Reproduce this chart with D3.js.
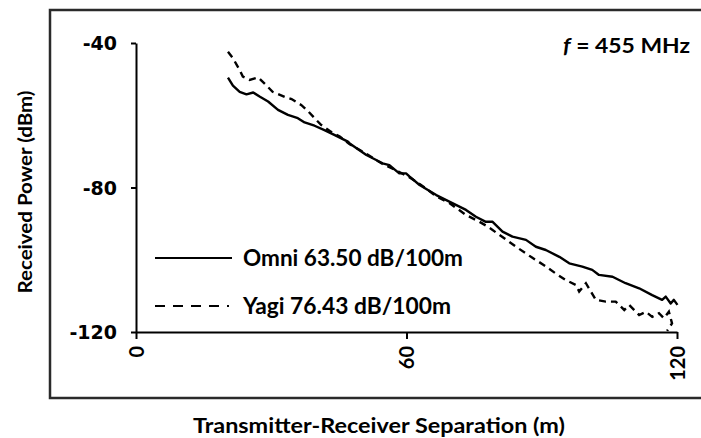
<!DOCTYPE html>
<html><head><meta charset="utf-8">
<script src="https://cdn.jsdelivr.net/npm/d3@7"></script>
<style>
html,body{margin:0;padding:0;background:#fff;}
svg{display:block;}
</style></head>
<body>
<svg id="chart" width="701" height="438"></svg>
<script>
// ---- data ----
const xTicks = [0, 60, 120];
const yTicks = [-40, -80, -120];
const omniDist = [20.4,21.5,23.0,24.5,26.0,27.5,29.3,31.5,33.7,35.9,37.4,39.6,41.8,44.1,47.0,47.4,51.1,54.7,56.2,58.4,59.9,60.7,62.9,66.6,69.5,73.2,75.4,77.6,79.1,81.3,83.5,86.5,88.7,90.9,93.9,96.1,99.0,101.2,102.7,105.7,108.6,111.6,114.5,116.7,117.5,118.6,119.3,120.1];
const omniPower = [-49.6,-51.8,-53.5,-54.2,-53.7,-54.9,-56.2,-58.5,-59.9,-60.8,-62.0,-62.9,-64.1,-65.5,-67.3,-67.8,-71.0,-73.3,-73.8,-76.1,-76.1,-77.0,-79.3,-82.1,-83.9,-86.2,-88.1,-89.5,-89.5,-92.2,-93.6,-94.5,-96.4,-97.3,-99.2,-101.0,-101.9,-102.8,-104.2,-104.7,-106.5,-107.9,-109.8,-111.1,-110.2,-112.1,-111.1,-112.5];
const yagiDist = [20.4,21.5,23.0,23.7,25.2,27.1,29.2,30.3,33.0,34.5,36.7,38.1,40.0,41.1,43.3,45.2,47.4,51.1,54.7,58.4,60.7,62.9,66.6,69.5,73.2,76.2,78.0,80.6,84.3,87.6,90.5,93.1,95.3,97.6,98.3,99.8,102.0,104.2,106.4,108.3,109.4,111.6,113.1,114.5,116.0,117.1,118.2,118.9,117.8];
const yagiPower = [-42.4,-44.2,-47.5,-49.3,-50.2,-49.5,-52.1,-53.5,-54.9,-55.5,-57.2,-58.8,-61.3,-62.7,-64.6,-65.9,-68.0,-70.7,-73.5,-75.7,-77.2,-79.0,-82.4,-84.3,-87.6,-89.5,-90.8,-93.1,-96.4,-99.2,-101.5,-103.8,-105.6,-107.0,-108.8,-106.5,-111.1,-111.6,-111.6,-113.9,-112.5,-115.3,-114.4,-115.8,-114.8,-116.2,-114.4,-117.6,-119.7];
const legendLabels = ["Omni 63.50 dB/100m", "Yagi 76.43 dB/100m"];
const freqLabel = "455 MHz";
const xTitle = "Transmitter-Receiver Separation (m)";
const yTitle = "Received Power (dBm)";

// ---- drawing ----
const svg = d3.select("#chart");
const x = d3.scaleLinear().domain([0, 120]).range([136, 677]);
const y = d3.scaleLinear().domain([-120, -40]).range([332, 43]);
const calibri = "Lato, 'Open Sans', sans-serif";

// outer frame
svg.append("rect").attr("x", 50).attr("y", 10).attr("width", 700).attr("height", 388)
  .attr("fill", "none").attr("stroke", "#2a2a2a").attr("stroke-width", 2.5);

// y axis
const ya = svg.append("g").attr("transform", "translate(136,0)")
  .call(d3.axisLeft(y).tickValues(yTicks).tickSizeInner(5).tickSizeOuter(0).tickPadding(14).tickFormat(d => String(d)));
ya.select(".domain").attr("stroke", "#000").attr("stroke-width", 2);
ya.selectAll(".tick line").attr("stroke", "#000").attr("stroke-width", 2);
ya.selectAll(".tick text").attr("font-family", "'DejaVu Sans', Verdana, sans-serif")
  .attr("font-weight", "bold").attr("font-size", 19).attr("fill", "#000").attr("dy", "0.36em");

// x axis
const xa = svg.append("g").attr("transform", "translate(0,332)")
  .call(d3.axisBottom(x).tickValues(xTicks).tickSizeInner(7).tickSizeOuter(0).tickFormat(d => String(d)));
xa.select(".domain").attr("stroke", "#000").attr("stroke-width", 2);
xa.selectAll(".tick line").attr("stroke", "#000").attr("stroke-width", 2);
xa.selectAll(".tick text").attr("transform", "rotate(-90)")
  .attr("x", -14).attr("y", 0).attr("dy", "0.36em").attr("text-anchor", "end")
  .attr("font-family", calibri).attr("font-weight", "bold").attr("font-size", 20).attr("fill", "#000");

// lines
const omni = omniDist.map((d, i) => [d, omniPower[i]]);
const yagi = yagiDist.map((d, i) => [d, yagiPower[i]]);
const line = d3.line().x(d => x(d[0])).y(d => y(d[1]));
svg.append("path").datum(omni).attr("d", line).attr("fill", "none")
  .attr("stroke", "#000").attr("stroke-width", 2.4).attr("stroke-linejoin", "round");
svg.append("path").datum(yagi).attr("d", line).attr("fill", "none")
  .attr("stroke", "#000").attr("stroke-width", 2.4).attr("stroke-dasharray", "7,5");

// legend
const lg = svg.append("g");
const legendW = [220, 208];
[0, 1].forEach(i => {
  const yy = i === 0 ? 258 : 306;
  lg.append("line").attr("x1", 155).attr("x2", i === 0 ? 232 : 229).attr("y1", yy).attr("y2", yy)
    .attr("stroke", "#000").attr("stroke-width", 2.2)
    .attr("stroke-dasharray", i === 0 ? null : "10,8");
  lg.append("text").attr("x", 243).attr("y", yy + 8).text(legendLabels[i])
    .attr("textLength", legendW[i]).attr("lengthAdjust", "spacingAndGlyphs")
    .attr("font-family", calibri).attr("font-weight", "bold").attr("font-size", 22);
});

// frequency annotation
const ft = svg.append("text").attr("x", 563).attr("y", 53)
  .attr("textLength", 127).attr("lengthAdjust", "spacingAndGlyphs")
  .attr("font-family", calibri).attr("font-weight", "bold").attr("font-size", 21);
ft.append("tspan").attr("font-style", "italic").text("f");
ft.append("tspan").text(" = " + freqLabel);

// axis titles
svg.append("text").attr("x", 379).attr("y", 433).attr("text-anchor", "middle")
  .attr("textLength", 372).attr("lengthAdjust", "spacingAndGlyphs")
  .attr("font-family", calibri).attr("font-weight", "bold").attr("font-size", 20).text(xTitle);
svg.append("text").attr("transform", "translate(32,192) rotate(-90)").attr("text-anchor", "middle")
  .attr("textLength", 203).attr("lengthAdjust", "spacingAndGlyphs")
  .attr("font-family", calibri).attr("font-weight", "bold").attr("font-size", 19).text(yTitle);
</script>
</body></html>
